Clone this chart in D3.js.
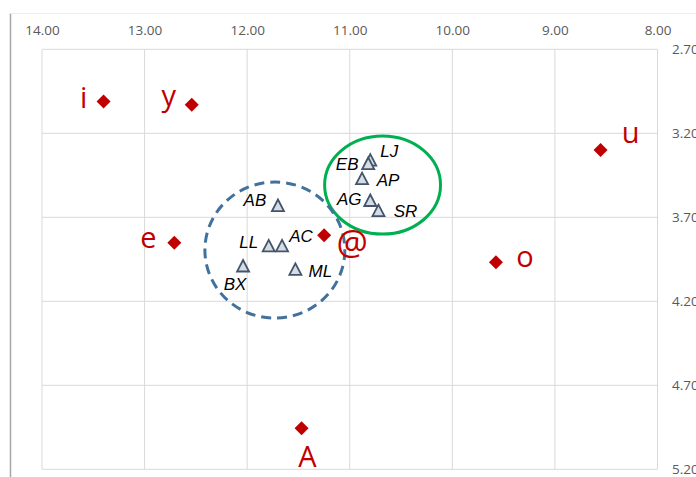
<!DOCTYPE html>
<html>
<head>
<meta charset="utf-8">
<script src="https://cdn.jsdelivr.net/npm/d3@7"></script>
<style>
  body { margin: 0; background: #fff; }
</style>
</head>
<body>
<div id="chart"></div>
<script>
// axis ticks
var xTicks = [14, 13, 12, 11, 10, 9, 8];
var yTicks = [2.7, 3.2, 3.7, 4.2, 4.7, 5.2];

// vowel points (red diamonds)
var vowelNames = ["i", "y", "u", "e", "@", "o", "A"];
var vowelX = [13.40, 12.54, 8.555, 12.71, 11.25, 9.575, 11.47];
var vowelY = [3.01, 3.03, 3.30, 3.851, 3.807, 3.968, 4.956];

// speaker points (triangles)
var speakerNames = ["LJ", "EB", "AP", "AG", "SR", "AB", "LL", "AC", "BX", "ML"];
var speakerX = [10.80, 10.82, 10.88, 10.80, 10.72, 11.70, 11.79, 11.66, 12.04, 11.53];
var speakerY = [3.36, 3.38, 3.47, 3.60, 3.66, 3.63, 3.87, 3.87, 3.99, 4.01];

// group rings: centre x, centre y, radius x, radius y
var ringNames = ["green", "blue"];
var ringCx = [10.68, 11.73];
var ringCy = [3.508, 3.895];
var ringRx = [0.565, 0.682];
var ringRy = [0.292, 0.405];

var vowels = vowelNames.map((n, i) => ({name: n, x: vowelX[i], y: vowelY[i]}));
var speakers = speakerNames.map((n, i) => ({name: n, x: speakerX[i], y: speakerY[i]}));
var rings = ringNames.map((n, i) => ({name: n, cx: ringCx[i], cy: ringCy[i], rx: ringRx[i], ry: ringRy[i]}));

var W = 696, H = 477;
var plot = {left: 42, right: 657.5, top: 49.3, bottom: 469.3};

var svg = d3.select('#chart').append('svg')
    .attr('width', W)
    .attr('height', H);

// chart frame (partly visible outer border)
svg.append('line')
    .attr('x1', 10.5).attr('x2', 10.5)
    .attr('y1', 13).attr('y2', H)
    .attr('stroke', '#a6a6a6')
    .attr('stroke-width', 1.5);
svg.append('line')
    .attr('x1', 10).attr('x2', W)
    .attr('y1', 13.5).attr('y2', 13.5)
    .attr('stroke', '#ececec');

// scales: both reversed
var x = d3.scaleLinear()
    .domain([14, 8])
    .range([plot.left, plot.right]);
var y = d3.scaleLinear()
    .domain([2.7, 5.2])
    .range([plot.top, plot.bottom]);

// gridlines
var grid = svg.append('g');
grid.selectAll('line.vx')
    .data(xTicks)
    .join('line')
    .attr('class', 'vx')
    .attr('x1', d => x(d)).attr('x2', d => x(d))
    .attr('y1', plot.top).attr('y2', plot.bottom)
    .attr('stroke', '#d9d9d9');
grid.selectAll('line.hy')
    .data(yTicks)
    .join('line')
    .attr('class', 'hy')
    .attr('x1', plot.left).attr('x2', plot.right)
    .attr('y1', d => y(d)).attr('y2', d => y(d))
    .attr('stroke', '#d9d9d9');

// tick labels: x on top, y on right
var fmt = d3.format('.2f');
var xAxis = svg.append('g')
    .attr('transform', `translate(0,${plot.top})`)
    .call(d3.axisTop(x).tickValues(xTicks).tickFormat(fmt).tickSize(0).tickPadding(14));
var yAxis = svg.append('g')
    .attr('transform', `translate(${plot.right},0)`)
    .call(d3.axisRight(y).tickValues(yTicks).tickFormat(fmt).tickSize(0).tickPadding(14.5));
[xAxis, yAxis].forEach(function (a) {
    a.select('.domain').remove();
    a.selectAll('text')
        .attr('fill', '#595959')
        .attr('font-family', '"Open Sans", "Noto Sans", sans-serif')
        .attr('font-size', '13.5px');
});

// rings
svg.append('g')
    .selectAll('ellipse')
    .data(rings)
    .join('ellipse')
    .attr('cx', d => x(d.cx))
    .attr('cy', d => y(d.cy))
    .attr('rx', d => x(d.cx - d.rx) - x(d.cx))
    .attr('ry', d => y(d.cy + d.ry) - y(d.cy))
    .attr('fill', 'none')
    .attr('stroke', d => d.name == 'green' ? '#00b050' : '#41719c')
    .attr('stroke-width', 3)
    .attr('stroke-dasharray', d => d.name == 'green' ? null : '10,6');

// speaker triangles
svg.append('g')
    .selectAll('path')
    .data(speakers)
    .join('path')
    .attr('d', 'M0,-6L6,5.5L-6,5.5Z')
    .attr('transform', d => `translate(${x(d.x)},${y(d.y)})`)
    .attr('fill', '#d6dce5')
    .attr('stroke', '#44546a')
    .attr('stroke-width', 1.8)
    .attr('stroke-linejoin', 'miter');

// speaker label offsets (dx, baseline dy)
var speakerOffset = {
    LJ: [19, -3], EB: [-21, 6], AP: [26, 7], AG: [-21, 4], SR: [27, 6],
    AB: [-23, 0], LL: [-20, 2], AC: [19, -4], BX: [-8, 24], ML: [25, 8]
};
svg.append('g')
    .selectAll('text')
    .data(speakers)
    .join('text')
    .attr('x', d => x(d.x) + speakerOffset[d.name][0])
    .attr('y', d => y(d.y) + speakerOffset[d.name][1])
    .attr('text-anchor', 'middle')
    .attr('font-family', '"Liberation Sans", Arial, sans-serif')
    .attr('font-style', 'italic')
    .attr('font-size', '17px')
    .attr('fill', '#000')
    .text(d => d.name);

// vowel diamonds
svg.append('g')
    .selectAll('path')
    .data(vowels)
    .join('path')
    .attr('d', 'M0,-7L7,0L0,7L-7,0Z')
    .attr('transform', d => `translate(${x(d.x)},${y(d.y)})`)
    .attr('fill', '#c00000');

var vowelOffset = {
    i: [-20, 7], y: [-23, 1], u: [30, -7], e: [-26, 5], '@': [28, 20], o: [29, 5], A: [6, 39]
};
svg.append('g')
    .selectAll('text')
    .data(vowels)
    .join('text')
    .attr('x', d => x(d.x) + vowelOffset[d.name][0])
    .attr('y', d => y(d.y) + vowelOffset[d.name][1])
    .attr('text-anchor', 'middle')
    .attr('font-family', '"Open Sans", "Noto Sans", sans-serif')
    .attr('font-size', d => d.name == '@' ? '35px' : '29px')
    .attr('fill', '#c00000')
    .text(d => d.name);
</script>
</body>
</html>
